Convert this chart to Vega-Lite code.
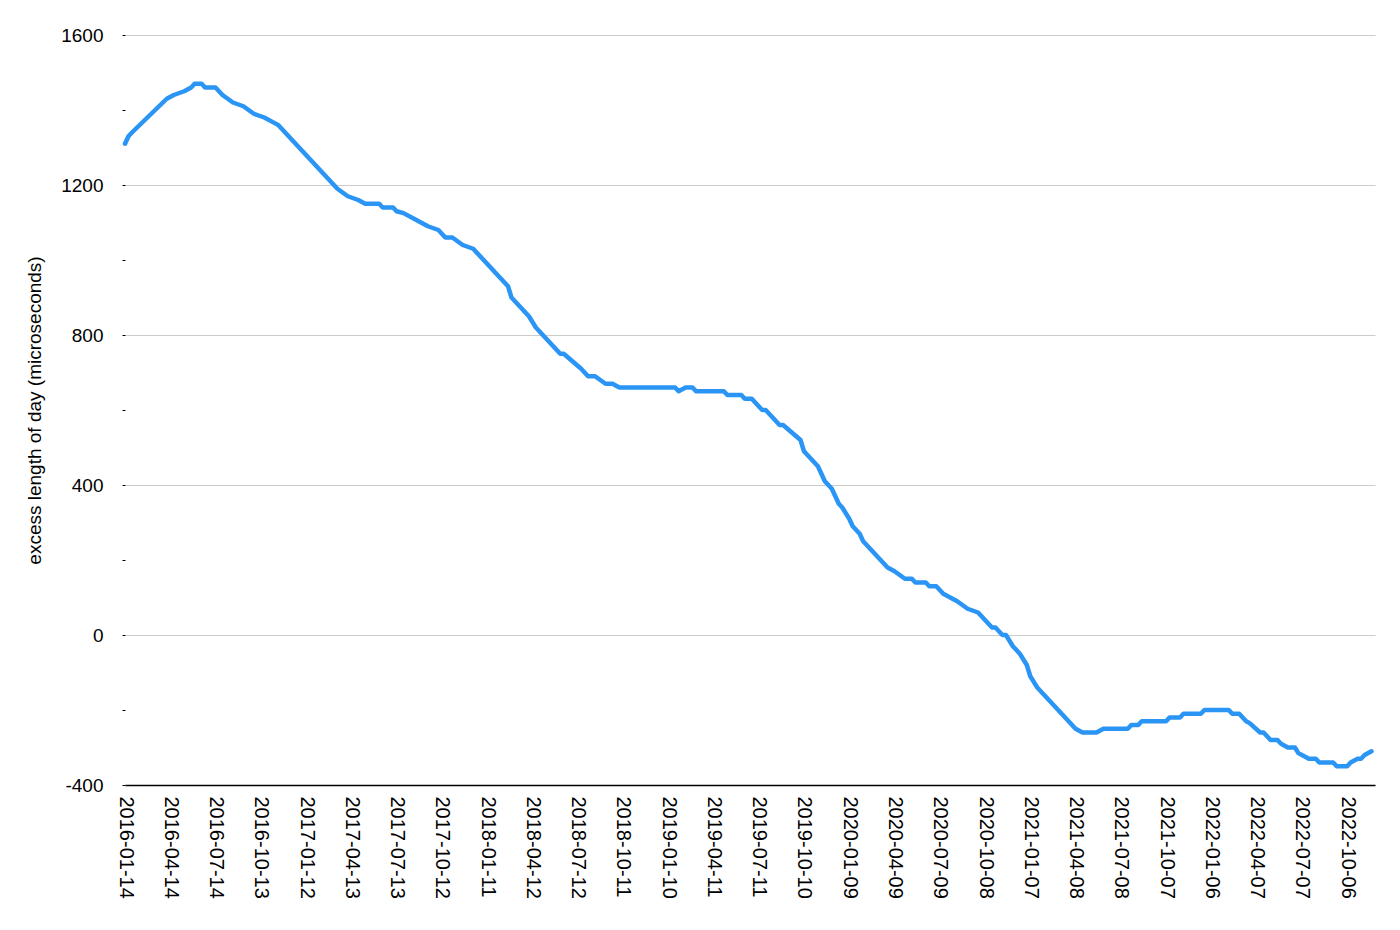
{
  "$schema": "https://vega.github.io/schema/vega-lite/v6.json",
  "width": 1250,
  "height": 750,
  "autosize": {"type": "none"},
  "padding": {"left": 125, "top": 35, "right": 25, "bottom": 145},
  "background": "white",
  "config": {"view": {"stroke": null}},
  "data": {"values": [
    {"date": "2016-01-14", "value": 1310},
    {"date": "2016-01-21", "value": 1330},
    {"date": "2016-01-28", "value": 1340},
    {"date": "2016-04-07", "value": 1430},
    {"date": "2016-04-21", "value": 1440},
    {"date": "2016-05-12", "value": 1450},
    {"date": "2016-05-26", "value": 1460},
    {"date": "2016-06-02", "value": 1470},
    {"date": "2016-06-16", "value": 1470},
    {"date": "2016-06-23", "value": 1460},
    {"date": "2016-07-14", "value": 1460},
    {"date": "2016-07-28", "value": 1440},
    {"date": "2016-08-18", "value": 1420},
    {"date": "2016-09-08", "value": 1410},
    {"date": "2016-09-29", "value": 1390},
    {"date": "2016-10-20", "value": 1380},
    {"date": "2016-11-10", "value": 1365},
    {"date": "2016-11-17", "value": 1360},
    {"date": "2017-03-16", "value": 1190},
    {"date": "2017-04-06", "value": 1170},
    {"date": "2017-04-27", "value": 1160},
    {"date": "2017-05-11", "value": 1150},
    {"date": "2017-06-08", "value": 1150},
    {"date": "2017-06-15", "value": 1140},
    {"date": "2017-07-06", "value": 1140},
    {"date": "2017-07-13", "value": 1130},
    {"date": "2017-07-27", "value": 1125},
    {"date": "2017-08-17", "value": 1110},
    {"date": "2017-09-14", "value": 1090},
    {"date": "2017-10-05", "value": 1080},
    {"date": "2017-10-19", "value": 1060},
    {"date": "2017-11-02", "value": 1060},
    {"date": "2017-11-23", "value": 1040},
    {"date": "2017-12-14", "value": 1030},
    {"date": "2018-02-22", "value": 930},
    {"date": "2018-03-01", "value": 900},
    {"date": "2018-03-15", "value": 880},
    {"date": "2018-03-29", "value": 860},
    {"date": "2018-04-05", "value": 850},
    {"date": "2018-04-19", "value": 820},
    {"date": "2018-06-07", "value": 750},
    {"date": "2018-06-14", "value": 750},
    {"date": "2018-07-19", "value": 710},
    {"date": "2018-08-02", "value": 690},
    {"date": "2018-08-16", "value": 690},
    {"date": "2018-09-06", "value": 670},
    {"date": "2018-09-20", "value": 670},
    {"date": "2018-10-04", "value": 660},
    {"date": "2019-01-24", "value": 660},
    {"date": "2019-01-31", "value": 650},
    {"date": "2019-02-14", "value": 660},
    {"date": "2019-02-28", "value": 660},
    {"date": "2019-03-07", "value": 650},
    {"date": "2019-05-02", "value": 650},
    {"date": "2019-05-09", "value": 640},
    {"date": "2019-06-06", "value": 640},
    {"date": "2019-06-13", "value": 630},
    {"date": "2019-06-27", "value": 630},
    {"date": "2019-07-18", "value": 600},
    {"date": "2019-07-25", "value": 600},
    {"date": "2019-08-22", "value": 560},
    {"date": "2019-08-29", "value": 560},
    {"date": "2019-10-03", "value": 520},
    {"date": "2019-10-10", "value": 490},
    {"date": "2019-10-24", "value": 470},
    {"date": "2019-11-07", "value": 450},
    {"date": "2019-11-14", "value": 430},
    {"date": "2019-11-21", "value": 410},
    {"date": "2019-12-05", "value": 390},
    {"date": "2019-12-19", "value": 350},
    {"date": "2019-12-26", "value": 340},
    {"date": "2020-01-09", "value": 310},
    {"date": "2020-01-16", "value": 290},
    {"date": "2020-01-30", "value": 270},
    {"date": "2020-02-06", "value": 250},
    {"date": "2020-03-12", "value": 200},
    {"date": "2020-03-26", "value": 180},
    {"date": "2020-04-09", "value": 170},
    {"date": "2020-04-30", "value": 150},
    {"date": "2020-05-14", "value": 150},
    {"date": "2020-05-21", "value": 140},
    {"date": "2020-06-11", "value": 140},
    {"date": "2020-06-18", "value": 130},
    {"date": "2020-07-02", "value": 130},
    {"date": "2020-07-16", "value": 110},
    {"date": "2020-07-30", "value": 100},
    {"date": "2020-08-13", "value": 90},
    {"date": "2020-09-03", "value": 70},
    {"date": "2020-09-24", "value": 60},
    {"date": "2020-10-22", "value": 20},
    {"date": "2020-10-29", "value": 20},
    {"date": "2020-11-12", "value": 0},
    {"date": "2020-11-19", "value": 0},
    {"date": "2020-12-03", "value": -30},
    {"date": "2020-12-17", "value": -50},
    {"date": "2020-12-31", "value": -80},
    {"date": "2021-01-07", "value": -110},
    {"date": "2021-01-21", "value": -140},
    {"date": "2021-02-04", "value": -160},
    {"date": "2021-04-08", "value": -250},
    {"date": "2021-04-22", "value": -260},
    {"date": "2021-05-20", "value": -260},
    {"date": "2021-06-03", "value": -250},
    {"date": "2021-07-22", "value": -250},
    {"date": "2021-07-29", "value": -240},
    {"date": "2021-08-12", "value": -240},
    {"date": "2021-08-19", "value": -230},
    {"date": "2021-10-07", "value": -230},
    {"date": "2021-10-14", "value": -220},
    {"date": "2021-11-04", "value": -220},
    {"date": "2021-11-11", "value": -210},
    {"date": "2021-12-16", "value": -210},
    {"date": "2021-12-23", "value": -200},
    {"date": "2022-02-10", "value": -200},
    {"date": "2022-02-17", "value": -210},
    {"date": "2022-03-03", "value": -210},
    {"date": "2022-03-17", "value": -230},
    {"date": "2022-03-24", "value": -235},
    {"date": "2022-04-14", "value": -260},
    {"date": "2022-04-21", "value": -260},
    {"date": "2022-05-05", "value": -280},
    {"date": "2022-05-19", "value": -280},
    {"date": "2022-05-26", "value": -290},
    {"date": "2022-06-09", "value": -300},
    {"date": "2022-06-23", "value": -300},
    {"date": "2022-06-30", "value": -315},
    {"date": "2022-07-07", "value": -320},
    {"date": "2022-07-21", "value": -330},
    {"date": "2022-08-04", "value": -330},
    {"date": "2022-08-11", "value": -340},
    {"date": "2022-09-08", "value": -340},
    {"date": "2022-09-15", "value": -350},
    {"date": "2022-10-06", "value": -350},
    {"date": "2022-10-13", "value": -340},
    {"date": "2022-10-27", "value": -330},
    {"date": "2022-11-03", "value": -330},
    {"date": "2022-11-10", "value": -320},
    {"date": "2022-11-24", "value": -310}
  ]},
  "mark": {"type": "line", "color": "#2b95f5", "strokeWidth": 4.5, "strokeJoin": "round", "strokeCap": "round"},
  "encoding": {
    "x": {
      "field": "date",
      "type": "temporal",
      "scale": {
        "type": "utc",
        "domain": [
          {"year": 2016, "month": 1, "date": 14, "utc": true},
          {"year": 2022, "month": 12, "date": 1, "utc": true}
        ]
      },
      "axis": {
        "title": null,
        "grid": false,
        "ticks": false,
        "domain": true,
        "domainColor": "#000000",
        "domainWidth": 1.5,
        "labelExpr": "utcFormat(datum.value, '%Y-%m-%d')",
        "labelAngle": 90,
        "labelAlign": "left",
        "labelBaseline": "middle",
        "labelPadding": 11,
        "labelFont": "Liberation Sans",
        "labelFontSize": 20,
        "labelColor": "#000000",
        "labelOverlap": false,
        "labelFlush": false,
        "values": [
          {"year": 2016, "month": 1, "date": 14, "utc": true},
          {"year": 2016, "month": 4, "date": 14, "utc": true},
          {"year": 2016, "month": 7, "date": 14, "utc": true},
          {"year": 2016, "month": 10, "date": 13, "utc": true},
          {"year": 2017, "month": 1, "date": 12, "utc": true},
          {"year": 2017, "month": 4, "date": 13, "utc": true},
          {"year": 2017, "month": 7, "date": 13, "utc": true},
          {"year": 2017, "month": 10, "date": 12, "utc": true},
          {"year": 2018, "month": 1, "date": 11, "utc": true},
          {"year": 2018, "month": 4, "date": 12, "utc": true},
          {"year": 2018, "month": 7, "date": 12, "utc": true},
          {"year": 2018, "month": 10, "date": 11, "utc": true},
          {"year": 2019, "month": 1, "date": 10, "utc": true},
          {"year": 2019, "month": 4, "date": 11, "utc": true},
          {"year": 2019, "month": 7, "date": 11, "utc": true},
          {"year": 2019, "month": 10, "date": 10, "utc": true},
          {"year": 2020, "month": 1, "date": 9, "utc": true},
          {"year": 2020, "month": 4, "date": 9, "utc": true},
          {"year": 2020, "month": 7, "date": 9, "utc": true},
          {"year": 2020, "month": 10, "date": 8, "utc": true},
          {"year": 2021, "month": 1, "date": 7, "utc": true},
          {"year": 2021, "month": 4, "date": 8, "utc": true},
          {"year": 2021, "month": 7, "date": 8, "utc": true},
          {"year": 2021, "month": 10, "date": 7, "utc": true},
          {"year": 2022, "month": 1, "date": 6, "utc": true},
          {"year": 2022, "month": 4, "date": 7, "utc": true},
          {"year": 2022, "month": 7, "date": 7, "utc": true},
          {"year": 2022, "month": 10, "date": 6, "utc": true}
        ]
      }
    },
    "y": {
      "field": "value",
      "type": "quantitative",
      "scale": {"domain": [-400, 1600], "nice": false, "zero": false},
      "axis": {
        "title": "excess length of day (microseconds)",
        "titleFont": "Liberation Sans",
        "titleFontSize": 19,
        "titleFontWeight": "normal",
        "titleColor": "#000000",
        "titlePadding": 16,
        "values": [-400, -200, 0, 200, 400, 600, 800, 1000, 1200, 1400, 1600],
        "labelExpr": "datum.value % 400 === 0 ? '' + datum.value : ''",
        "labelFont": "Liberation Sans",
        "labelFontSize": 19,
        "labelColor": "#000000",
        "labelPadding": 19,
        "labelOverlap": false,
        "domain": false,
        "ticks": true,
        "tickSize": 3,
        "tickColor": "#000000",
        "grid": true,
        "gridColor": "#cccccc",
        "gridWidth": 1,
        "gridOpacity": {"condition": {"test": "datum.value % 400 !== 0", "value": 0}, "value": 1}
      }
    }
  }
}
